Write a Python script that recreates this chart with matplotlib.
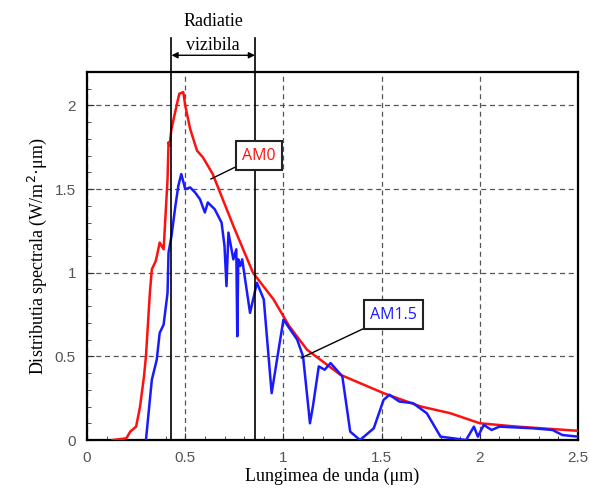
import matplotlib
matplotlib.use('Agg')
import matplotlib.pyplot as plt
import numpy as np

# AM0 spectrum (extraterrestrial)
am0_x = [0.13, 0.20, 0.22, 0.25, 0.27, 0.29, 0.30, 0.32, 0.33, 0.35, 0.37, 0.39,
         0.41, 0.415, 0.42, 0.43, 0.46, 0.47, 0.49, 0.50, 0.525, 0.56, 0.59, 0.64,
         0.745, 0.845, 0.95, 1.03, 1.12, 1.29, 1.39, 1.51, 1.70, 1.85, 2.0, 2.19, 2.5]
am0_y = [0.0, 0.01, 0.05, 0.08, 0.20, 0.38, 0.50, 0.88, 1.02, 1.07, 1.18, 1.14,
         1.56, 1.78, 1.76, 1.86, 2.02, 2.07, 2.08, 2.00, 1.86, 1.73, 1.69, 1.59,
         1.28, 1.00, 0.84, 0.68, 0.54, 0.39, 0.34, 0.28, 0.20, 0.16, 0.10, 0.08, 0.055]

# AM1.5 spectrum (ground level)
am15_x = [0.30, 0.33, 0.355, 0.37, 0.39, 0.41, 0.415, 0.43, 0.45, 0.465, 0.48, 0.50,
          0.525, 0.55, 0.575, 0.60, 0.615, 0.65, 0.685, 0.70, 0.71, 0.72, 0.745, 0.76,
          0.765, 0.77, 0.78, 0.79, 0.83, 0.865, 0.90, 0.94, 0.97, 1.0, 1.07, 1.10,
          1.13, 1.135, 1.15, 1.18, 1.21, 1.24, 1.30, 1.34, 1.39, 1.46, 1.51, 1.54,
          1.59, 1.66, 1.73, 1.80, 1.93, 1.97, 1.99, 2.02, 2.06, 2.10, 2.27, 2.37,
          2.42, 2.5]
am15_y = [0.0, 0.36, 0.48, 0.64, 0.69, 0.88, 1.12, 1.22, 1.40, 1.52, 1.59, 1.50,
          1.51, 1.48, 1.44, 1.36, 1.42, 1.38, 1.30, 1.16, 0.92, 1.24, 1.08, 1.14,
          0.62, 1.08, 1.04, 1.08, 0.76, 0.94, 0.84, 0.28, 0.50, 0.72, 0.60, 0.50,
          0.16, 0.10, 0.20, 0.44, 0.42, 0.46, 0.38, 0.05, 0.0, 0.07, 0.24, 0.27,
          0.23, 0.22, 0.16, 0.02, 0.0, 0.08, 0.02, 0.09, 0.06, 0.08, 0.07, 0.06,
          0.03, 0.02]

visible = [0.43, 0.855]

fig = plt.figure(figsize=(5.9, 5.0), dpi=100)
ax = fig.add_axes([0.1475, 0.12, 0.8322, 0.736])

ax.plot(am0_x, am0_y, color='#ff1010', lw=1.8, zorder=3)
ax.plot(am15_x, am15_y, color='#1a1aff', lw=1.8, zorder=3)

ax.set_xlim(0, 2.5)
ax.set_ylim(0, 2.2)
ax.xaxis.set_major_locator(matplotlib.ticker.MultipleLocator(0.5))
ax.xaxis.set_minor_locator(matplotlib.ticker.MultipleLocator(0.1))
ax.yaxis.set_major_locator(matplotlib.ticker.MultipleLocator(0.5))
ax.yaxis.set_minor_locator(matplotlib.ticker.MultipleLocator(0.1))
ax.xaxis.set_major_formatter(matplotlib.ticker.FormatStrFormatter('%g'))
ax.yaxis.set_major_formatter(matplotlib.ticker.FormatStrFormatter('%g'))
ax.tick_params(which='both', direction='in', colors='#333333', labelcolor='#555555',
               labelsize=11, pad=8)
ax.tick_params(which='major', length=5)
ax.tick_params(which='minor', length=3)
for lab in ax.get_xticklabels() + ax.get_yticklabels():
    lab.set_family('Liberation Sans')
ax.grid(True, which='major', ls=(0, (4, 3)), color='#555555', lw=0.9)
for s in ax.spines.values():
    s.set_linewidth(1.6)

serif = 'Liberation Serif'
ax.set_xlabel('Lungimea de unda (\u03bcm)', family=serif, fontsize=13, labelpad=2)
ax.set_ylabel('Distributia spectrala (W/m$^2$\u00b7\u03bcm)', family=serif, fontsize=13,
              labelpad=4)

# visible band markers
for v in visible:
    ax.plot([v, v], [0, 2.405], color='black', lw=1.2, clip_on=False, zorder=4)
ax.annotate('', xy=(visible[0], 2.30), xytext=(visible[1], 2.30),
            arrowprops=dict(arrowstyle='<|-|>', color='black', lw=1.0,
                            shrinkA=0, shrinkB=0, mutation_scale=9),
            annotation_clip=False)
mid = (visible[0] + visible[1]) / 2
ax.text(mid, 2.50, 'Radiatie', ha='center', va='center', family=serif, fontsize=13,
        clip_on=False)
ax.text(mid, 2.36, 'vizibila', ha='center', va='center', family=serif, fontsize=13,
        clip_on=False)

# series labels
box = dict(boxstyle='square,pad=0.4', fc='white', ec='#222222', lw=1.5)
ax.annotate('AM0', xy=(0.63, 1.56), xytext=(0.875, 1.70), color='#ff1010',
            family='Open Sans', fontsize=11.5, ha='center', va='center', bbox=box,
            arrowprops=dict(arrowstyle='-', color='black', lw=1.0,
                            shrinkA=0, shrinkB=0), zorder=5)
ax.annotate('AM1.5', xy=(1.09, 0.49), xytext=(1.56, 0.75), color='#1a1aff',
            family='Open Sans', fontsize=11.5, ha='center', va='center', bbox=box,
            arrowprops=dict(arrowstyle='-', color='black', lw=1.0,
                            shrinkA=0, shrinkB=0), zorder=5)

plt.savefig('out.png', dpi=100)
